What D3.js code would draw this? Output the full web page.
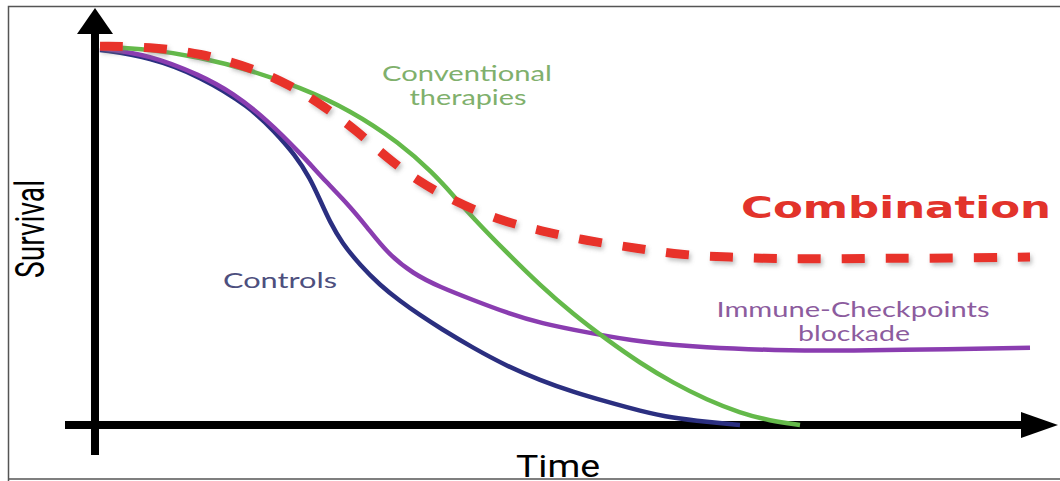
<!DOCTYPE html>
<html>
<head>
<meta charset="utf-8">
<script src="https://cdn.jsdelivr.net/npm/d3@7"></script>
<style>
  html, body { margin: 0; padding: 0; background: #fff; }
  svg { display: block; }
</style>
</head>
<body>
<svg id="chart" width="1060" height="481"></svg>
<script>
// ---- Data (time in weeks 0..93, survival in % 0..100) ----
const controlsTime = [0, 5, 10, 15, 17.5, 19.5, 21, 22, 23, 24.2, 26, 28, 30, 32, 34, 37.3, 40.7, 44, 47.3, 50.7, 54, 57.3, 60.7, 64];
const controlsSurv = [98.7, 96.8, 91.8, 83.7, 77.1, 71.1, 65.0, 59.2, 53.4, 47.9, 42.1, 36.8, 32.6, 28.9, 25.5, 20.3, 15.5, 11.8, 8.7, 6.1, 3.7, 1.8, 0.8, 0];

const immuneTime = [0, 5, 10, 13.3, 16.7, 20, 22.7, 24.7, 26.7, 28.7, 31.3, 34, 37.3, 40.7, 44, 49, 54, 60.7, 67.3, 75, 85, 93];
const immuneSurv = [99.2, 97.4, 92.1, 87.4, 80.3, 71.6, 63.7, 58.4, 52.1, 45.3, 39.8, 36.3, 32.9, 29.5, 26.8, 24.2, 21.8, 20.3, 19.7, 19.5, 20.0, 20.3];

const conventionalTime = [0, 5, 10, 15, 20, 25, 30, 33.3, 35.3, 37.3, 40.7, 44, 47.3, 50.7, 54, 57.3, 60.7, 64, 67, 70];
const conventionalSurv = [99.5, 98.9, 96.8, 93.4, 88.9, 82.9, 74.2, 66.3, 60.5, 54.5, 45.3, 36.8, 29.2, 22.4, 16.3, 11.1, 6.6, 3.2, 1.1, 0];

const combinationTime = [0, 5, 10, 15.3, 19, 22.5, 25.7, 28.6, 31.8, 35.2, 39.8, 44.1, 48.8, 53.5, 58.1, 63.1, 67.5, 73, 79, 85.5, 93];
const combinationSurv = [99.7, 99.5, 97.9, 93.9, 89.5, 83.7, 77.4, 70.5, 64.2, 59.2, 53.9, 51.1, 48.4, 46.6, 44.7, 44.2, 43.7, 43.7, 43.9, 43.9, 44.2];

const axisLabels = { x: "Time", y: "Survival" };
const seriesLabels = {
  conventional: ["Conventional", "therapies"],
  combination: ["Combination"],
  controls: ["Controls"],
  immune: ["Immune-Checkpoints", "blockade"]
};

// ---- Setup ----
const W = 1060, H = 481;
const svg = d3.select("#chart");
const x = d3.scaleLinear().domain([0, 93]).range([100, 1030]);
const y = d3.scaleLinear().domain([0, 100]).range([425, 45]);

const defs = svg.append("defs");
defs.append("clipPath").attr("id", "frame")
  .append("rect").attr("x", 8.5).attr("y", 6.5).attr("width", W).attr("height", 472.5);
const f = defs.append("filter").attr("id", "shadow")
  .attr("x", "-20%").attr("y", "-20%").attr("width", "140%").attr("height", "140%");
f.append("feDropShadow").attr("dx", 2).attr("dy", 3).attr("stdDeviation", 2)
  .attr("flood-color", "#777").attr("flood-opacity", 0.45);

svg.append("rect").attr("width", W).attr("height", H).attr("fill", "#fff");

const g = svg.append("g").attr("clip-path", "url(#frame)");

// ---- Axes ----
const axisX0 = x(0) - 5;         // vertical axis position
const axisY0 = y(0);             // horizontal axis position
g.append("line").attr("x1", axisX0).attr("x2", axisX0)
  .attr("y1", 30).attr("y2", axisY0 + 30)
  .attr("stroke", "#000").attr("stroke-width", 8);
g.append("path")
  .attr("d", `M${axisX0},8 L${axisX0 + 18},34 L${axisX0 - 18},34 Z`)
  .attr("fill", "#000");
g.append("line").attr("x1", axisX0 - 30).attr("x2", 1024)
  .attr("y1", axisY0).attr("y2", axisY0)
  .attr("stroke", "#000").attr("stroke-width", 8);
g.append("path")
  .attr("d", `M1058,${axisY0} L1021,${axisY0 - 13} L1021,${axisY0 + 13} Z`)
  .attr("fill", "#000");

// ---- Curves ----
const line = d3.line().x(d => x(d[0])).y(d => y(d[1])).curve(d3.curveBasis);
const zip = (a, b) => a.map((v, i) => [v, b[i]]);

g.append("path").datum(zip(controlsTime, controlsSurv))
  .attr("d", line).attr("fill", "none").attr("stroke", "#2b2f80").attr("stroke-width", 4.5);
g.append("path").datum(zip(immuneTime, immuneSurv))
  .attr("d", line).attr("fill", "none").attr("stroke", "#8a3db0").attr("stroke-width", 4.5);
g.append("path").datum(zip(conventionalTime, conventionalSurv))
  .attr("d", line).attr("fill", "none").attr("stroke", "#64b94a").attr("stroke-width", 4.5);
g.append("path").datum(zip(combinationTime, combinationSurv))
  .attr("d", line).attr("fill", "none").attr("stroke", "#e8302a").attr("stroke-width", 9)
  .attr("stroke-dasharray", "23,21").attr("filter", "url(#shadow)");

// ---- Labels ----
const labelFont = "Lato, 'Open Sans', sans-serif";
function label(text, cx, by, len, size, color, weight, family) {
  return g.append("text").attr("x", cx).attr("y", by)
    .attr("text-anchor", "middle")
    .attr("font-family", family || labelFont)
    .attr("font-size", size).attr("font-weight", weight || "normal")
    .attr("fill", color)
    .attr("textLength", len).attr("lengthAdjust", "spacingAndGlyphs")
    .text(text);
}
label(seriesLabels.conventional[0], 467, 81, 170, 21, "#80b06c");
label(seriesLabels.conventional[1], 468, 105, 117, 21, "#80b06c");
label(seriesLabels.combination[0], 896, 218, 310, 30, "#e2332b", "bold", "'DejaVu Sans', sans-serif");
label(seriesLabels.controls[0], 280, 288, 114, 21, "#4d4f7e");
label(seriesLabels.immune[0], 853, 317, 273, 21, "#8c5c9e");
label(seriesLabels.immune[1], 854, 341, 112, 21, "#8c5c9e");

// axis titles
g.append("text").attr("x", 558).attr("y", 477)
  .attr("text-anchor", "middle")
  .attr("font-family", "'Liberation Sans Narrow', 'Roboto', sans-serif")
  .attr("font-size", 31).attr("fill", "#000")
  .attr("textLength", 84).attr("lengthAdjust", "spacingAndGlyphs")
  .text(axisLabels.x);
g.append("text").attr("transform", "translate(44,229) rotate(-90)")
  .attr("text-anchor", "middle")
  .attr("font-family", "'Liberation Sans Narrow', 'Roboto', sans-serif")
  .attr("font-size", 40).attr("fill", "#000")
  .attr("textLength", 98).attr("lengthAdjust", "spacingAndGlyphs")
  .text(axisLabels.y);

// ---- Frame ----
svg.append("path")
  .attr("d", `M8.5,${H} L8.5,6.5 L${W},6.5 M8.5,479 L${W},479`)
  .attr("fill", "none").attr("stroke", "#555").attr("stroke-width", 1.5);
</script>
</body>
</html>
